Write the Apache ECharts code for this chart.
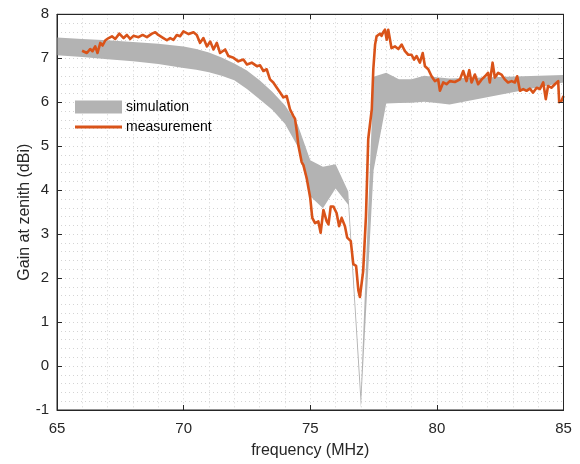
<!DOCTYPE html>
<html>
<head>
<meta charset="utf-8">
<script src="https://cdn.jsdelivr.net/npm/echarts@6/dist/echarts.min.js"></script>
<style>html,body{margin:0;padding:0;background:#fff}#c{width:580px;height:464px}</style>
</head>
<body>
<div id="c"></div>
<script>
// ---- data ----
const xTicks = [65, 70, 75, 80, 85];
const yTicks = [-1, 0, 1, 2, 3, 4, 5, 6, 7, 8];

const simFreq  = [65, 66, 67, 68, 69, 70, 70.5, 71, 71.5, 72, 72.5, 73, 73.5, 74, 74.5, 75, 75.5, 76, 76.5, 77, 77.5, 78, 78.5, 79, 79.5, 80, 80.5, 85];
const simUpper = [7.47, 7.44, 7.41, 7.37, 7.33, 7.27, 7.21, 7.13, 7.02, 6.88, 6.72, 6.5, 6.24, 5.93, 5.5, 4.68, 4.53, 4.59, 3.97, -0.6, 6.58, 6.67, 6.52, 6.52, 6.6, 6.57, 6.54, 6.62];
const simLower = [7.07, 7.03, 6.98, 6.93, 6.87, 6.78, 6.74, 6.68, 6.6, 6.5, 6.3, 6.07, 5.83, 5.51, 5.0, 3.86, 3.59, 4.04, 3.67, -0.95, 4.45, 5.97, 5.98, 5.99, 6.01, 5.98, 5.95, 6.45];

const measFreq = [65.99, 66.18, 66.31, 66.40, 66.51, 66.60, 66.71, 66.80, 66.91, 67.04, 67.17, 67.30, 67.46, 67.63, 67.76, 67.89, 68.02, 68.22, 68.38, 68.55, 68.75, 68.88, 69.00, 69.20, 69.34, 69.47, 69.60, 69.73, 69.86, 69.99,
  70.20, 70.39, 70.52, 70.65, 70.78, 70.92, 71.05, 71.18, 71.31, 71.44, 71.64, 71.77, 71.97, 72.16, 72.36, 72.50, 72.69, 72.89, 73.02, 73.15, 73.28, 73.41, 73.54, 73.68, 73.81, 73.94, 74.07, 74.20, 74.33, 74.40, 74.47, 74.53,
  74.66, 74.73, 74.80, 74.86, 75.00, 75.08, 75.19, 75.32, 75.41, 75.52, 75.65, 75.72, 75.81, 75.91, 76.04, 76.14, 76.24, 76.37, 76.46, 76.60, 76.70, 76.81, 76.90, 76.96, 77.03, 77.09, 77.20, 77.29,
  77.43, 77.49, 77.56, 77.62, 77.75, 77.82, 77.88, 77.95, 78.02, 78.08, 78.15, 78.21, 78.35, 78.48, 78.61, 78.74, 78.87, 79.00, 79.10, 79.20, 79.33, 79.44, 79.53, 79.66, 79.79, 79.92, 80.05, 80.12, 80.18, 80.25, 80.38, 80.51,
  80.71, 80.91, 81.04, 81.17, 81.28, 81.37, 81.50, 81.63, 81.77, 81.90, 82.02, 82.09, 82.20, 82.29, 82.42, 82.55, 82.68, 82.81, 82.95, 83.08, 83.17, 83.28, 83.41, 83.54, 83.67, 83.80, 83.94, 84.07, 84.20, 84.30, 84.39, 84.52, 84.66, 84.79, 84.83, 84.92, 85.00];
const measGain = [7.17, 7.12, 7.21, 7.16, 7.27, 7.12, 7.35, 7.29, 7.41, 7.46, 7.50, 7.44, 7.56, 7.46, 7.53, 7.44, 7.51, 7.48, 7.53, 7.48, 7.56, 7.59, 7.53, 7.46, 7.41, 7.46, 7.42, 7.53, 7.50, 7.61,
  7.55, 7.59, 7.53, 7.35, 7.46, 7.27, 7.38, 7.20, 7.35, 7.12, 7.20, 7.05, 7.01, 6.93, 6.97, 6.86, 6.90, 6.82, 6.84, 6.71, 6.75, 6.52, 6.45, 6.33, 6.22, 6.11, 6.14, 5.84, 5.69, 5.62, 5.33, 5.02,
  4.64, 4.57, 4.53, 4.27, 3.82, 3.37, 3.25, 3.29, 3.03, 3.55, 3.29, 3.22, 3.63, 3.63, 3.48, 3.18, 3.37, 3.18, 2.92, 2.84, 2.32, 2.28, 1.72, 1.57, 1.53, 2.16, 3.41, 5.17,
  5.84, 6.75, 7.31, 7.50, 7.56, 7.51, 7.59, 7.65, 7.42, 7.65, 7.61, 7.23, 7.27, 7.21, 7.31, 7.16, 7.08, 7.08, 6.97, 7.05, 6.90, 7.12, 6.82, 6.75, 6.59, 6.48, 6.52, 6.26, 6.22, 6.45, 6.41, 6.48,
  6.46, 6.52, 6.71, 6.48, 6.73, 6.45, 6.63, 6.41, 6.52, 6.59, 6.67, 6.45, 6.90, 6.56, 6.67, 6.63, 6.52, 6.45, 6.48, 6.45, 6.59, 6.26, 6.30, 6.26, 6.31, 6.22, 6.33, 6.30, 6.45, 6.07, 6.37, 6.33, 6.41, 6.48, 6.00, 6.03, 6.14];

// ---- chart ----
const FONT = '"Liberation Sans", Arial, sans-serif';
const TXT = '#262626';
const gridLine = {show: true, lineStyle: {color: '#d4d4d4', type: [1, 3], width: 1}};
const chart = echarts.init(document.getElementById('c'), null, {renderer: 'canvas'});

const xBase = {type: 'value', min: xTicks[0], max: xTicks[xTicks.length - 1], interval: xTicks[1] - xTicks[0]};
const yBase = {type: 'value', min: yTicks[0], max: yTicks[yTicks.length - 1], interval: yTicks[1] - yTicks[0]};

chart.setOption({
  animation: false,
  backgroundColor: '#ffffff',
  textStyle: {fontFamily: FONT},
  grid: {left: 57, right: 16.5, top: 14.3, bottom: 50, show: true, borderColor: TXT, borderWidth: 1, backgroundColor: 'transparent', z: 10},
  legend: [
    {data: ['simulation'], left: 75, top: 100, itemWidth: 47, itemHeight: 13, icon: 'rect', itemGap: 4,
     selectedMode: false, padding: 0, textStyle: {fontSize: 14, color: '#000', fontFamily: FONT, padding: [0, 0, 0, -1]}},
    {data: ['measurement'], left: 75, top: 120, itemWidth: 47, itemHeight: 3, icon: 'rect', itemGap: 4,
     selectedMode: false, padding: 0, textStyle: {fontSize: 14, color: '#000', fontFamily: FONT, padding: [0, 0, 0, -1]}}
  ],
  xAxis: [
    Object.assign({}, xBase, {
      show: true, position: 'bottom',
      name: 'frequency (MHz)', nameLocation: 'middle', nameGap: 33, nameMoveOverlap: false,
      nameTextStyle: {fontSize: 16, color: TXT, fontFamily: FONT},
      axisLine: {show: true, onZero: false, lineStyle: {color: TXT, width: 1}},
      axisTick: {show: true, inside: true, length: 5, lineStyle: {color: TXT}},
      axisLabel: {show: true, fontSize: 15, color: TXT, margin: 11, fontFamily: FONT},
      splitLine: gridLine,
      minorTick: {show: false, splitNumber: 5},
      minorSplitLine: gridLine
    }),
    Object.assign({}, xBase, {
      show: true, position: 'top', z: 11,
      axisLine: {show: true, onZero: false, lineStyle: {color: TXT, width: 1}},
      axisTick: {show: true, inside: true, length: 5, lineStyle: {color: TXT}},
      axisLabel: {show: false},
      splitLine: {show: false}
    })
  ],
  yAxis: [
    Object.assign({}, yBase, {
      show: true, position: 'left',
      name: 'Gain at zenith (dBi)', nameLocation: 'middle', nameGap: 24, nameMoveOverlap: false,
      nameTextStyle: {fontSize: 16, color: TXT, fontFamily: FONT},
      axisLine: {show: true, onZero: false, lineStyle: {color: TXT, width: 1}},
      axisTick: {show: true, inside: true, length: 5, lineStyle: {color: TXT}},
      axisLabel: {show: true, fontSize: 15, color: TXT, margin: 8, fontFamily: FONT},
      splitLine: gridLine,
      minorTick: {show: false, splitNumber: 5},
      minorSplitLine: gridLine
    }),
    Object.assign({}, yBase, {
      show: true, position: 'right', z: 11,
      axisLine: {show: true, onZero: false, lineStyle: {color: TXT, width: 1}},
      axisTick: {show: true, inside: true, length: 5, lineStyle: {color: TXT}},
      axisLabel: {show: false},
      splitLine: {show: false}
    })
  ],
  series: [
    {
      name: 'simulation', type: 'custom', xAxisIndex: 0, yAxisIndex: 0,
      itemStyle: {color: '#b3b3b3'},
      data: [[simFreq[0], simUpper[0]]],
      clip: true,
      z: 2,
      renderItem: function (params, api) {
        const pts = [];
        for (let i = 0; i < simFreq.length; i++) pts.push(api.coord([simFreq[i], simUpper[i]]));
        for (let i = simFreq.length - 1; i >= 0; i--) pts.push(api.coord([simFreq[i], simLower[i]]));
        return {type: 'polygon', shape: {points: pts}, style: {fill: '#b3b3b3', stroke: null}};
      }
    },
    {
      name: 'measurement', type: 'line', xAxisIndex: 0, yAxisIndex: 0,
      data: measFreq.map((f, i) => [f, measGain[i]]),
      showSymbol: false, symbol: 'none', clip: true, z: 3,
      itemStyle: {color: '#D95319'},
      lineStyle: {color: '#D95319', width: 2.6, join: 'round'}
    }
  ]
});
</script>
</body>
</html>
